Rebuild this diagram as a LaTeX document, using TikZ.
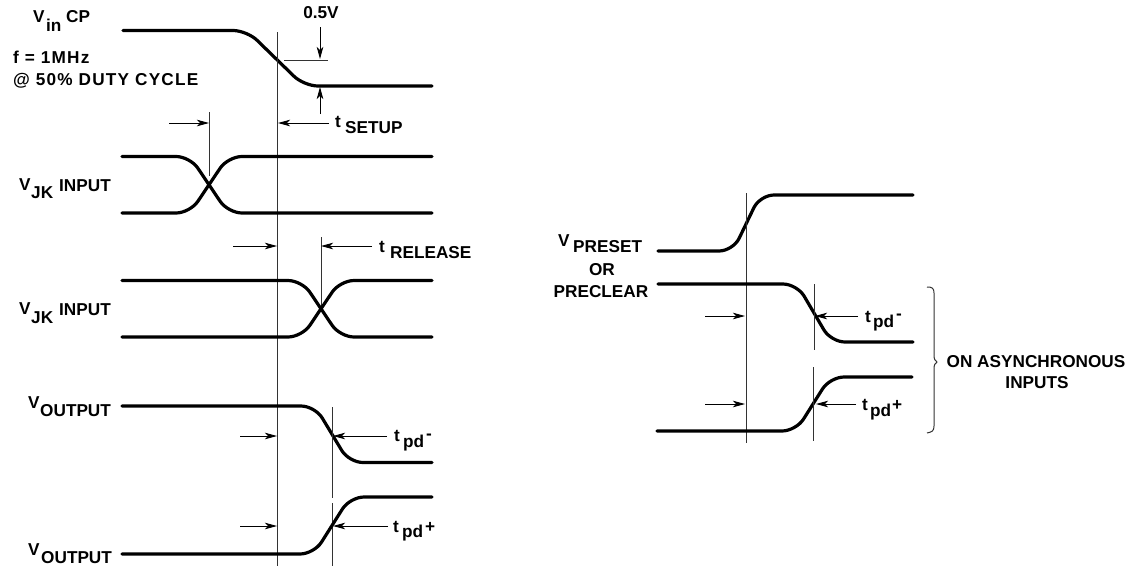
\documentclass[tikz,border=0pt]{standalone}
\usepackage{fontspec}
\setmainfont{Liberation Sans}
\usetikzlibrary{arrows.meta,positioning,calc}

\begin{document}
\begin{tikzpicture}[
    x=1pt, y=-1pt,
    wave/.style={line width=3.2pt, rounded corners=14pt, line cap=round},
    guide/.style={line width=0.9pt, black!80},
    arrow/.style={-{Stealth[length=12pt, width=6.5pt, inset=3pt]}, line width=0.9pt},
    lbl/.style={inner sep=0pt, font=\bfseries\fontsize{17.2}{19}\selectfont},
    sub/.style={lbl, anchor=west},
    wide/.style={sub, font=\bfseries\fontsize{17.2}{19}\selectfont\addfontfeature{LetterSpace=7}}
]
\useasboundingbox (0,0) rectangle (1134,571);

% Vin CP
\draw[wave] (123,30.5) -- (247,30.5) -- (304,86) -- (432,86);
\node[sub] (vin) at (33,17) {V};
\node[sub] (vinsub) at (46,25) {in};
\node[sub] (vincp) at (66,17) {CP};
\node[wide] (freq) at (13,57) {f = 1MHz};
\node[wide] (duty) at (13,81) {@ 50\% DUTY CYCLE};

% Half volt mark
\node[lbl] (half) at (321,13) {0.5V};
\draw[guide] (284,60) -- (328,60);
\draw[arrow] (320,27) -- (320,59);
\draw[arrow] (320,114) -- (320,87);

% Setup
\draw[guide] (277.5,32) -- (277.5,566);
\draw[arrow] (329,123) -- (278,123);
\node[sub] (tset) at (335,122) {t};
\node[sub] (setup) at (345,128) {SETUP};

% First JK pair
\draw[guide] (209.5,112) -- (209.5,176);
\draw[arrow] (169,123) -- (209,123);
\draw[wave] (122,156.5) -- (190,156.5) -- (228,213) -- (432,213);
\draw[wave] (122,213) -- (190,213) -- (228,156.5) -- (432,156.5);
\node[sub] (jka) at (19,185) {V};
\node[sub] (jkasub) at (31,193) {JK};
\node[sub] (jkain) at (59,186) {INPUT};

% Second JK pair
\draw[guide] (321,237) -- (321,310);
\draw[arrow] (233,246) -- (277,246);
\draw[arrow] (372,246) -- (321,246);
\node[sub] (trel) at (379,247) {t};
\node[sub] (release) at (390,253) {RELEASE};
\draw[wave] (122,280.5) -- (302,280.5) -- (340,337) -- (432,337);
\draw[wave] (122,337) -- (302,337) -- (340,280.5) -- (432,280.5);
\node[sub] (jkb) at (19,309) {V};
\node[sub] (jkbsub) at (31,318) {JK};
\node[sub] (jkbin) at (59,310) {INPUT};

% Output falling
\draw[wave] (122,406) -- (315,406) -- (349,462.5) -- (432,462.5);
\draw[guide] (332,407) -- (332,498);
\draw[guide] (332,503) -- (332,566);
\draw[arrow] (240,436) -- (277,436);
\draw[arrow] (387,436) -- (333,436);
\node[sub] (tpda) at (394,436) {t};
\node[sub] (pda) at (403,443) {pd};
\node[sub] (pdam) at (426,437) {-};
\node[sub] (outa) at (28,403) {V};
\node[sub] (outasub) at (40,411) {OUTPUT};

% Output rising
\draw[wave] (122,554) -- (314,554) -- (350,497) -- (432,497);
\draw[arrow] (240,526) -- (277,526);
\draw[arrow] (388,526) -- (333,526);
\node[sub] (tpdb) at (393,527) {t};
\node[sub] (pdb) at (402,533) {pd};
\node[sub] (pdbp) at (425,527) {+};
\node[sub] (outb) at (28,550) {V};
\node[sub] (outbsub) at (41,558) {OUTPUT};

% Preset side
\draw[wave] (658,251) -- (733,251) -- (760,195) -- (913,195);
\draw[guide] (746,193) -- (746,443);
\node[sub] (pre) at (558,241) {V};
\node[sub] (preset) at (573,247) {PRESET};
\node[lbl] (orw) at (602,270) {OR};
\node[lbl] (clear) at (601,292) {PRECLEAR};

% tpd minus
\draw[wave] (658,284) -- (797,284) -- (831,342) -- (913,342);
\draw[guide] (814,284) -- (814,350);
\draw[arrow] (705,316) -- (745,316);
\draw[arrow] (858,316) -- (815,316);
\node[sub] (tpdc) at (865,317) {t};
\node[sub] (pdc) at (873,323) {pd};
\node[sub] (pdcm) at (896,317) {-};

% tpd plus
\draw[wave] (657,431) -- (796,431) -- (830,377) -- (912,377);
\draw[guide] (813,367) -- (813,441);
\draw[arrow] (705,404) -- (745,404);
\draw[arrow] (856,404) -- (816,404);
\node[sub] (tpdd) at (862,405) {t};
\node[sub] (pdd) at (870,412) {pd};
\node[sub] (pddp) at (892,405) {+};

% Brace
\draw[guide, line width=1pt] (927,287) .. controls (932,287) and (934,288) .. (934,293) -- (934,355) .. controls (934,359) and (935,361) .. (937,362) .. controls (935,363) and (934,365) .. (934,369) -- (934,426) .. controls (934,431) and (932,432) .. (927,433);
\node[lbl] (async) at (1036,362) {ON ASYNCHRONOUS};
\node[lbl] (asyncb) at (1037,383) {INPUTS};

\end{tikzpicture}
\end{document}
